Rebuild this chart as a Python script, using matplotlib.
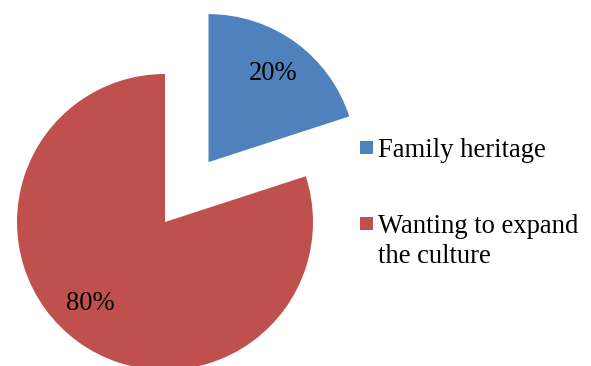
import matplotlib.pyplot as plt
from matplotlib.patches import Rectangle

# data
labels = ['Family heritage', 'Wanting to expand\nthe culture']
shares = [20, 80]
colors = ['#4F81BD', '#C0504D']

plt.rcParams['font.family'] = ['Liberation Serif', 'DejaVu Serif']
fs = 19.2

fig = plt.figure(figsize=(5.91, 3.66), dpi=100)
ax = fig.add_axes([0, 0, 1, 1])

wedges, texts, autotexts = ax.pie(shares, colors=colors, explode=[0.5, 0],
                                  startangle=90, counterclock=False,
                                  autopct='%.0f%%', pctdistance=0.74,
                                  textprops={'fontsize': fs, 'color': 'black'})

# pie centre at (165, 222) px, radius 148 px
r = 148.0
ax.set_xlim(-165 / r, (591 - 165) / r)
ax.set_ylim(-(366 - 222) / r, 222 / r)
ax.axis('off')
# the 80% label sits a bit further round than the mid angle
autotexts[1].set_position((-75 / r, -81 / r))

# legend drawn in pixel coordinates
lg = fig.add_axes([0, 0, 1, 1])
lg.set_xlim(0, 591)
lg.set_ylim(366, 0)
lg.axis('off')
entry_tops = [141, 217]   # top of each square marker
for lab, col, y0 in zip(labels, colors, entry_tops):
    lg.add_patch(Rectangle((359.5, y0), 13, 13, facecolor=col, edgecolor='none'))
    for i, line in enumerate(lab.split('\n')):
        lg.text(378, y0 + 15.7 + 30 * i, line, fontsize=fs, va='baseline', ha='left')

fig.savefig('out.png', dpi=100)
